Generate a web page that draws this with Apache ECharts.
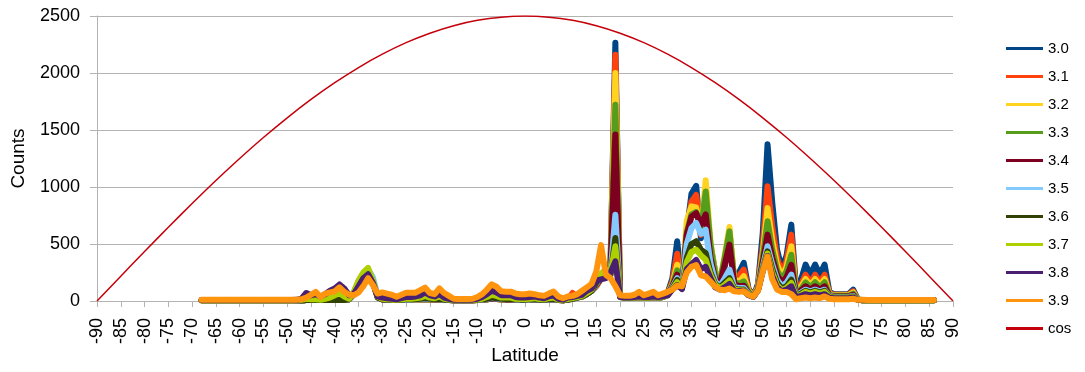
<!DOCTYPE html>
<html>
<head>
<meta charset="utf-8">
<script src="https://cdn.jsdelivr.net/npm/echarts@6/dist/echarts.min.js"></script>
<style>
html,body{margin:0;padding:0;background:#fff;}
#chart{width:1085px;height:372px;}
</style>
</head>
<body>
<div id="chart"></div>
<script>
// latitude of the first value in every series, one value per degree
var latStart = -68;

// counts per latitude, -68 .. 86
var s30 = [6,6,6,6,6,6,6,6,6,6,6,6,6,6,6,6,6,6,6,6,8,
  5,8,8,8,8,8,8,8,8,8,15,60,150,220,260,170,40,
  12,10,10,8,10,12,12,15,15,18,15,12,15,10,8,6,6,6,6,6,8,10,15,20,18,15,12,12,10,10,
  10,12,12,10,8,10,12,8,6,10,60,35,40,60,90,130,
  200,220,350,2265,40,28,28,30,35,30,30,35,30,35,70,
  200,524,140,600,940,1010,550,850,480,260,150,300,520,200,250,335,110,40,150,600,
  1375,860,450,280,400,670,110,180,320,230,320,230,320,80,60,60,60,60,100,15,
  7,7,7,7,7,7,7,7,7,7,7,7,7,7,7,7];
var s31 = [6,6,6,6,6,6,6,6,6,6,6,6,6,6,6,6,6,6,6,6,8,
  5,8,8,8,8,8,8,8,8,8,15,60,150,220,260,170,40,
  12,10,10,8,10,12,12,15,15,18,15,12,15,10,8,6,6,6,6,6,8,10,15,20,18,15,12,12,10,10,
  10,12,12,10,8,10,12,8,6,10,70,35,40,60,90,130,
  200,220,340,2160,40,28,28,30,35,30,30,35,30,35,65,
  170,415,130,620,870,930,580,900,470,230,150,330,600,180,220,275,100,38,130,480,
  1006,650,380,250,350,582,90,140,231,160,231,160,231,70,55,55,55,55,85,12,
  7,7,7,7,7,7,7,7,7,7,7,7,7,7,7,7];
var s32 = [6,6,6,6,6,6,6,6,6,6,6,6,6,6,6,6,6,6,6,6,8,
  5,8,8,8,8,8,8,8,8,8,15,60,150,220,260,170,40,
  12,10,10,8,10,12,12,15,15,18,15,12,15,10,8,6,6,6,6,6,8,10,15,20,18,15,12,12,10,10,
  10,12,12,10,8,10,12,8,6,10,30,30,40,60,100,130,
  210,230,330,2000,40,28,28,30,35,30,30,35,30,35,60,
  150,318,130,700,830,820,600,1060,520,250,170,400,650,190,170,217,90,38,120,420,
  816,530,320,220,300,480,80,120,193,140,193,140,193,60,50,50,50,50,75,12,
  7,7,7,7,7,7,7,7,7,7,7,7,7,7,7,7];
var s33 = [6,6,6,6,6,6,6,6,6,6,6,6,6,6,6,6,6,6,6,6,8,
  5,8,8,8,8,8,8,8,8,8,15,60,150,220,255,170,40,
  12,10,10,8,10,12,12,15,15,18,15,12,15,10,8,6,6,6,6,6,8,10,15,20,18,15,12,12,10,10,
  10,12,12,10,8,10,12,8,6,10,25,30,40,60,100,140,
  220,250,320,1722,40,28,28,30,35,30,30,35,30,35,60,
  140,269,125,600,760,780,620,960,500,230,170,380,611,170,150,173,80,38,110,380,
  699,450,270,190,260,406,70,100,164,120,164,120,164,55,45,45,45,45,65,12,
  7,7,7,7,7,7,7,7,7,7,7,7,7,7,7,7];
var s34 = [6,6,6,6,6,6,6,6,6,6,6,6,6,6,6,6,6,6,6,6,8,
  5,8,8,8,8,8,8,8,8,8,15,60,150,220,260,170,40,
  12,10,10,8,10,12,12,15,15,18,15,12,15,10,8,6,6,6,6,6,8,10,15,20,18,15,12,12,10,10,
  10,12,12,10,8,10,12,8,6,10,20,30,40,60,90,140,
  200,230,300,1460,40,28,28,30,35,30,30,35,30,35,55,
  130,231,120,580,740,770,670,760,380,190,150,320,495,150,130,134,70,38,100,340,
  582,380,230,160,210,318,60,90,129,100,129,100,129,50,40,40,40,40,55,10,
  7,7,7,7,7,7,7,7,7,7,7,7,7,7,7,7];
var s35 = [6,6,6,6,6,6,6,6,6,6,6,6,6,6,6,6,6,6,6,6,8,
  5,8,8,8,8,8,8,8,8,8,15,60,150,230,280,210,50,
  15,12,10,8,10,12,12,15,18,20,18,15,18,10,8,6,6,6,6,6,10,12,18,25,22,18,15,15,12,12,
  12,12,15,12,10,12,15,10,6,12,20,30,40,60,90,150,
  220,240,250,757,35,28,28,30,35,30,30,35,30,35,55,
  120,200,115,500,640,684,590,625,330,170,130,200,275,120,115,115,65,38,100,300,
  480,320,190,130,160,231,50,75,99,85,99,85,99,45,35,35,35,35,45,10,
  7,7,7,7,7,7,7,7,7,7,7,7,7,7,7,7];
var s36 = [6,6,6,6,6,6,6,6,6,6,6,6,6,6,6,6,6,6,6,6,8,
  5,8,8,8,8,8,8,8,8,8,15,70,170,240,270,170,30,
  15,12,10,8,10,15,15,18,20,25,20,18,20,12,10,6,6,6,6,6,10,15,20,30,25,20,18,18,15,12,
  12,15,18,12,10,15,20,10,6,12,20,30,40,60,90,160,
  220,240,230,553,35,28,28,30,35,30,30,35,30,35,50,
  110,185,110,380,500,524,450,420,250,150,120,160,200,110,100,100,60,38,95,280,
  436,280,160,110,130,187,45,65,90,75,90,75,90,40,30,30,30,30,40,10,
  7,7,7,7,7,7,7,7,7,7,7,7,7,7,7,7];
var s37 = [6,6,6,6,6,6,6,6,6,6,6,6,6,6,6,6,6,6,6,6,8,
  10,20,15,15,10,20,30,50,70,40,20,80,180,250,290,180,40,
  20,15,12,10,15,20,20,25,30,45,30,25,40,20,12,8,8,8,8,8,12,20,35,55,45,30,30,30,20,18,
  18,20,25,18,15,25,30,12,8,18,25,35,45,70,100,200,
  240,275,250,480,35,28,28,30,35,30,30,35,30,35,50,
  105,165,110,340,430,450,400,362,230,140,110,140,180,100,95,95,55,38,95,270,
  415,250,140,95,115,158,40,55,80,65,80,65,80,35,28,28,28,28,35,10,
  7,7,7,7,7,7,7,7,7,7,7,7,7,7,7,7];
var s38 = [8,8,8,8,8,8,8,8,8,8,8,8,8,8,8,8,8,8,8,8,10,
  20,70,50,60,40,60,90,110,145,110,50,60,130,200,235,160,40,
  30,25,20,15,25,35,35,40,50,75,50,40,60,30,20,10,10,10,10,12,20,35,60,90,75,50,50,50,35,30,
  30,35,40,30,25,40,50,20,12,30,35,45,55,90,110,180,
  190,200,250,348,35,30,30,35,40,35,35,40,35,40,50,
  100,140,105,280,320,360,280,300,200,120,100,120,150,90,88,90,50,35,95,260,
  395,220,120,85,100,129,30,45,60,50,60,50,60,30,25,25,25,25,30,10,
  8,8,8,8,8,8,8,8,8,8,8,8,8,8,8,8];
var s39 = [10,10,10,10,10,12,12,12,12,12,12,10,10,10,10,10,10,12,12,12,12,
  15,30,55,80,35,65,75,85,120,80,55,50,75,130,200,140,65,
  75,65,55,38,55,73,73,73,95,117,70,60,111,70,45,20,18,18,18,20,35,60,100,146,125,85,82,82,65,59,
  59,65,60,50,45,65,82,40,24,40,45,60,90,120,150,260,
  490,230,200,130,50,45,45,55,80,50,65,80,50,65,80,
  100,135,130,250,300,315,225,215,170,125,100,95,110,85,80,85,55,38,90,260,
  390,190,100,80,80,60,15,25,30,25,30,25,40,20,15,15,15,15,20,10,
  10,8,8,8,8,8,8,8,8,8,8,8,8,8,8,8];

// reference curve, read every 5 degrees
var cosLat = [-90,-85,-80,-75,-70,-65,-60,-55,-50,-45,-40,-35,-30,-25,-20,-15,-10,-5,0,
  5,10,15,20,25,30,35,40,45,50,55,60,65,70,75,80,85,90];
var cosVal = [0,218,434,647,855,1057,1250,1434,1607,1768,1915,2048,2165,2266,2349,2415,2462,2490,2500,
  2490,2462,2415,2349,2266,2165,2048,1915,1768,1607,1434,1250,1057,855,647,434,218,0];

var names = ['3.0','3.1','3.2','3.3','3.4','3.5','3.6','3.7','3.8','3.9'];
var colors = ['#004586','#ff420e','#ffd320','#579d1c','#7e0021','#83caff','#314004','#aecf00','#4b1f6f','#ff950e'];
var values = [s30,s31,s32,s33,s34,s35,s36,s37,s38,s39];

function pairs(arr){
  var out = [];
  for(var i=0;i<arr.length;i++){
    out.push([latStart+i, arr[i]]);
  }
  return out;
}

var series = [];
for(var k=0;k<names.length;k++){
  series.push({
    name: names[k],
    type: 'line',
    symbol: 'none',
    data: pairs(values[k]),
    itemStyle: {color: colors[k]},
    lineStyle: {color: colors[k], width: 6, cap: 'round', join: 'round'}
  });
}
var cosData = [];
for(var j=0;j<cosLat.length;j++){
  cosData.push([cosLat[j], cosVal[j]]);
}
series.push({
  name: 'cos',
  type: 'line',
  symbol: 'none',
  smooth: 0.3,
  data: cosData,
  itemStyle: {color: '#c5000b'},
  lineStyle: {color: '#c5000b', width: 1.5}
});

var font = 'Liberation Sans, Arial, sans-serif';
var chart = echarts.init(document.getElementById('chart'));
chart.setOption({
  animation: false,
  textStyle: {fontFamily: font},
  grid: {left: 97, right: 132, top: 16, bottom: 71, outerBoundsMode: 'none'},
  legend: {
    orient: 'vertical',
    left: 1006,
    top: 41,
    padding: 0,
    icon: 'rect',
    itemWidth: 37,
    itemHeight: 3,
    itemGap: 13,
    data: names.concat(['cos']),
    textStyle: {fontSize: 15, color: '#000', fontFamily: font, lineHeight: 15}
  },
  xAxis: {
    type: 'value',
    min: -90,
    max: 90,
    interval: 5,
    name: 'Latitude',
    nameLocation: 'middle',
    nameGap: 45,
    nameMoveOverlap: false,
    nameTextStyle: {fontSize: 19, color: '#000', fontFamily: font},
    axisLine: {lineStyle: {color: '#b3b3b3'}},
    axisTick: {show: true, length: 6, lineStyle: {color: '#b3b3b3'}},
    axisLabel: {rotate: 90, fontSize: 18, color: '#000', margin: 17, fontFamily: font},
    splitLine: {show: false}
  },
  yAxis: {
    type: 'value',
    min: 0,
    max: 2500,
    interval: 500,
    name: 'Counts',
    nameLocation: 'middle',
    nameGap: 69,
    nameMoveOverlap: false,
    nameTextStyle: {fontSize: 19, color: '#000', fontFamily: font},
    axisLine: {show: true, onZero: false, lineStyle: {color: '#b3b3b3'}},
    axisTick: {show: true, length: 7, lineStyle: {color: '#b3b3b3'}},
    axisLabel: {fontSize: 18, color: '#000', margin: 17, fontFamily: font,
      formatter: function(v){ return String(v); }},
    splitLine: {lineStyle: {color: '#b3b3b3'}}
  },
  series: series
});
</script>
</body>
</html>
